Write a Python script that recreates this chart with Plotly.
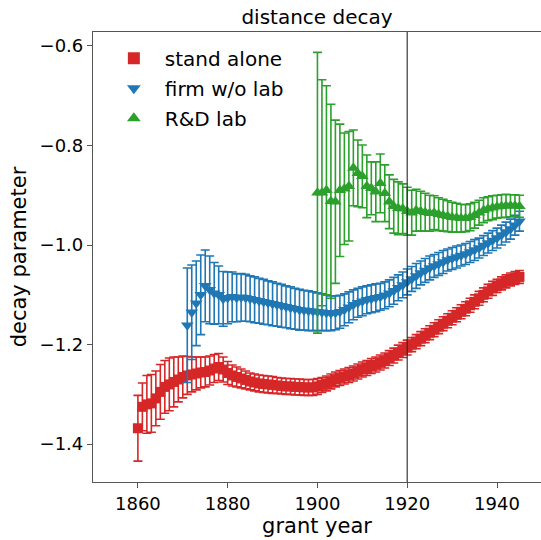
import plotly.graph_objects as go

# ---------------- data ----------------
years_stand = list(range(1860, 1946))
stand_alone = [
    -1.368, -1.325, -1.320, -1.318, -1.308, -1.295, -1.285, -1.280, -1.275, -1.270,
    -1.265, -1.262, -1.260, -1.258, -1.256, -1.255, -1.252, -1.248, -1.245, -1.250,
    -1.257, -1.262, -1.265, -1.268, -1.271, -1.274, -1.276, -1.278, -1.279, -1.280,
    -1.281, -1.282, -1.283, -1.284, -1.284, -1.285, -1.285, -1.286, -1.286, -1.286,
    -1.284, -1.281, -1.278, -1.274, -1.270, -1.267, -1.264, -1.261, -1.258, -1.254,
    -1.250, -1.247, -1.243, -1.240, -1.236, -1.232, -1.227, -1.222, -1.216, -1.211,
    -1.206, -1.200, -1.194, -1.188, -1.182, -1.176, -1.170, -1.164, -1.158, -1.152,
    -1.146, -1.140, -1.134, -1.128, -1.121, -1.114, -1.107, -1.100, -1.093, -1.087,
    -1.082, -1.077, -1.073, -1.069, -1.066, -1.064,
]
stand_alone_err = [
    0.066, 0.048, 0.058, 0.058, 0.055, 0.055, 0.053, 0.053, 0.050, 0.045,
    0.042, 0.038, 0.035, 0.033, 0.031, 0.030, 0.029, 0.028, 0.027, 0.025,
    0.023, 0.021, 0.020, 0.019, 0.018, 0.017, 0.017, 0.017, 0.017, 0.017,
    0.017, 0.016, 0.016, 0.016, 0.016, 0.016, 0.016, 0.016, 0.016, 0.016,
    0.016, 0.015, 0.015, 0.015, 0.015, 0.015, 0.015, 0.015, 0.015, 0.015,
    0.015, 0.015, 0.015, 0.015, 0.015, 0.015, 0.015, 0.015, 0.015, 0.015,
    0.015, 0.014, 0.014, 0.014, 0.014, 0.014, 0.014, 0.014, 0.014, 0.014,
    0.014, 0.014, 0.014, 0.014, 0.014, 0.014, 0.014, 0.014, 0.014, 0.014,
    0.013, 0.013, 0.013, 0.013, 0.013, 0.013,
]

years_firm = list(range(1871, 1946))
firm_no_lab = [
    -1.161, -1.135, -1.117, -1.100, -1.082, -1.090, -1.097, -1.100, -1.108,
    -1.106, -1.104, -1.106, -1.105, -1.106, -1.108, -1.110, -1.112, -1.114, -1.116,
    -1.118, -1.120, -1.122, -1.124, -1.126, -1.128, -1.130, -1.131, -1.132, -1.133,
    -1.134, -1.135, -1.136, -1.137, -1.136, -1.134, -1.130, -1.125, -1.120, -1.116,
    -1.113, -1.110, -1.108, -1.106, -1.104, -1.101, -1.097, -1.092, -1.086, -1.080,
    -1.074, -1.068, -1.062, -1.056, -1.051, -1.046, -1.042, -1.038, -1.034, -1.030,
    -1.027, -1.024, -1.021, -1.018, -1.014, -1.010, -1.006, -1.001, -0.996, -0.991,
    -0.986, -0.980, -0.974, -0.968, -0.960, -0.952,
]
firm_no_lab_err = [
    0.115, 0.095, 0.085, 0.080, 0.072, 0.068, 0.062, 0.058, 0.055,
    0.052, 0.050, 0.048, 0.048, 0.047, 0.046, 0.046, 0.045, 0.045, 0.044,
    0.044, 0.043, 0.043, 0.042, 0.042, 0.041, 0.041, 0.040, 0.040, 0.039,
    0.038, 0.037, 0.036, 0.035, 0.034, 0.033, 0.032, 0.031, 0.030, 0.029,
    0.029, 0.028, 0.028, 0.028, 0.027, 0.027, 0.027, 0.027, 0.026, 0.026,
    0.026, 0.025, 0.025, 0.024, 0.024, 0.024, 0.023, 0.023, 0.023, 0.022,
    0.022, 0.022, 0.021, 0.021, 0.021, 0.021, 0.020, 0.020, 0.020, 0.020,
    0.020, 0.020, 0.020, 0.020, 0.020, 0.020,
]

years_lab = list(range(1900, 1946))
rd_lab = [
    -0.895, -0.895, -0.890, -0.912, -0.913, -0.890, -0.887, -0.882, -0.845, -0.856,
    -0.862, -0.882, -0.886, -0.893, -0.876, -0.896, -0.913, -0.922, -0.926, -0.927,
    -0.932, -0.935, -0.930, -0.932, -0.934, -0.936, -0.935, -0.938, -0.940, -0.942,
    -0.944, -0.945, -0.946, -0.946, -0.944, -0.940, -0.935, -0.930, -0.927, -0.925,
    -0.923, -0.922, -0.921, -0.921, -0.921, -0.922,
]
rd_lab_err = [
    0.282, 0.227, 0.210, 0.195, 0.164, 0.133, 0.112, 0.110, 0.076, 0.067,
    0.063, 0.063, 0.053, 0.060, 0.059, 0.057, 0.054, 0.054, 0.053, 0.050,
    0.048, 0.045, 0.042, 0.040, 0.038, 0.036, 0.034, 0.033, 0.032, 0.031,
    0.030, 0.029, 0.028, 0.027, 0.027, 0.026, 0.025, 0.025, 0.024, 0.024,
    0.023, 0.023, 0.023, 0.022, 0.022, 0.022,
]

x_ticks = [1860, 1880, 1900, 1920, 1940]
y_ticks = [-1.4, -1.2, -1.0, -0.8, -0.6]
y_tick_labels = ["\u22121.4", "\u22121.2", "\u22121.0", "\u22120.8", "\u22120.6"]
split_year = 1920

# ---------------- figure ----------------
FONT = "DejaVu Sans"
AXC = "#555555"

series = [
    ("stand alone", years_stand, stand_alone, stand_alone_err, "#d62728", "square", 10),
    ("firm w/o lab", years_firm, firm_no_lab, firm_no_lab_err, "#1f77b4", "triangle-down", 11),
    ("R&D lab", years_lab, rd_lab, rd_lab_err, "#2ca02c", "triangle-up", 11),
]

fig = go.Figure()
for name, xs, ys, es, col, sym, sz in series:
    fig.add_trace(go.Scatter(
        x=xs, y=ys, name=name, mode="markers", legendgroup=name,
        marker=dict(color=col, symbol=sym, size=sz, line=dict(width=0)),
        error_y=dict(type="data", array=es, visible=True, color=col,
                     thickness=1.6, width=4.5),
    ))

fig.add_vline(x=split_year, line=dict(color="rgba(40,40,40,0.85)", width=1.3))

fig.update_layout(
    width=541, height=540,
    margin=dict(l=93, r=0, t=32, b=58),
    plot_bgcolor="white", paper_bgcolor="white",
    font=dict(family=FONT, size=18, color="black"),
    title=dict(text="distance decay", x=0.586, xanchor="center",
               y=1 - 17 / 540, yanchor="middle",
               font=dict(family=FONT, size=20, color="black")),
    showlegend=True,
    legend=dict(x=0.022, y=0.985, xanchor="left", yanchor="top",
                bgcolor="rgba(255,255,255,0)", borderwidth=0,
                font=dict(family=FONT, size=20, color="black"),
                itemsizing="constant", itemwidth=52, tracegroupgap=1),
)
fig.update_xaxes(
    range=[1850, 1949.8], tickvals=x_ticks, ticktext=[str(t) for t in x_ticks],
    showgrid=False, zeroline=False,
    showline=True, linecolor=AXC, linewidth=1.2, mirror=True,
    ticks="outside", ticklen=5, tickwidth=1.2, tickcolor=AXC,
    tickfont=dict(family=FONT, size=18, color="black"),
    title=dict(text="grant year", standoff=2,
               font=dict(family=FONT, size=21, color="black")),
)
fig.update_yaxes(
    range=[-1.476, -0.572], tickvals=y_ticks, ticktext=y_tick_labels,
    showgrid=False, zeroline=False,
    showline=True, linecolor=AXC, linewidth=1.2, mirror=False,
    ticks="outside", ticklen=5, tickwidth=1.2, tickcolor=AXC,
    tickfont=dict(family=FONT, size=18, color="black"),
    title=dict(text="decay parameter", standoff=7,
               font=dict(family=FONT, size=21, color="black")),
)

fig.write_html("out.html")
